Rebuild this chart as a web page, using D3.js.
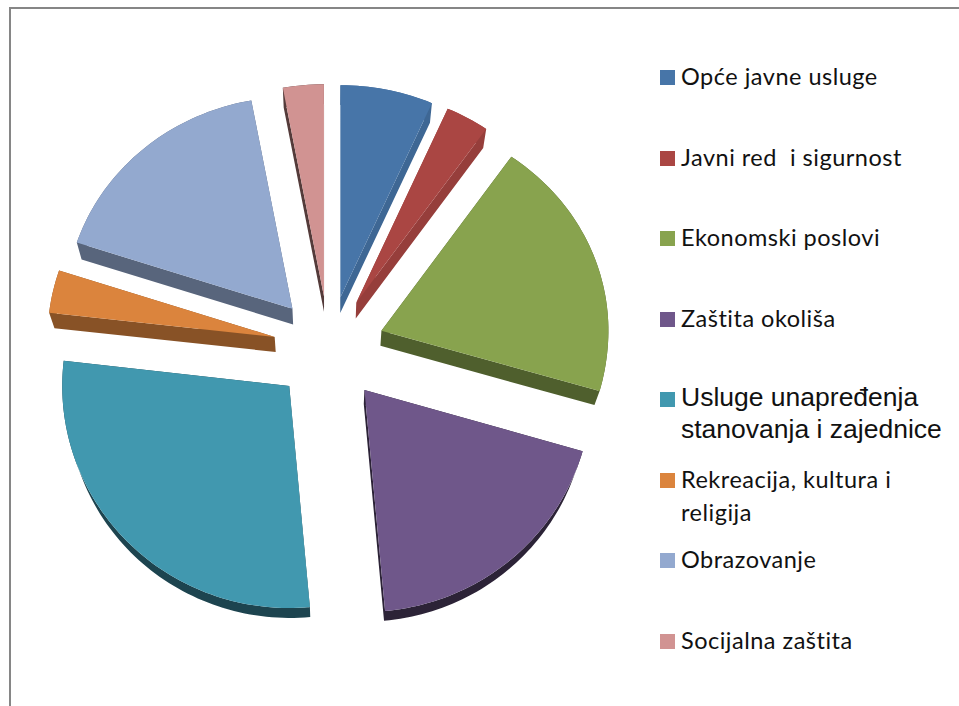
<!DOCTYPE html>
<html>
<head>
<meta charset="utf-8">
<script src="https://cdn.jsdelivr.net/npm/d3@7"></script>
<style>
  html, body { margin: 0; padding: 0; background: #fff; }
  svg { display: block; }
</style>
</head>
<body>
<div id="pie-chart"></div>
<script>
const categories = ["Opće javne usluge", "Javni red  i sigurnost", "Ekonomski poslovi", "Zaštita okoliša",
    "Usluge unapređenja stanovanja i zajednice", "Rekreacija, kultura i religija", "Obrazovanje", "Socijalna zaštita"];
const values = [6.6, 3.1, 19.75, 19.1, 28.26, 3.25, 17.04, 2.9];
const colors = ["#4775a8", "#aa4643", "#88a34e", "#6f578a", "#4198af", "#db843d", "#93a9cf", "#d19392"];
// how far each slice's side wall is darkened
const wallShade = [0.12, 0.12, 0.42, 0.6, 0.55, 0.38, 0.4, 0.6];

(function() {
    const width = 959;
    const height = 706;
    const explode = 0.245;
    const depth = 0.019;
    const vanish = [329, 1130];

    const svg = d3.select("#pie-chart")
        .append("svg")
        .attr("width", width)
        .attr("height", height);

    // frame, only the top and left sides are in the picture
    svg.append("path")
        .attr("d", "M10,706V8H959")
        .attr("fill", "none")
        .attr("stroke", "#868686")
        .attr("stroke-width", 2);

    // perspective: the far half of the pie is a little flatter
    const xScale = d3.scaleLinear().domain([-1, 1]).range([329 - 227, 329 + 227]);
    const yScale = d3.scaleLinear().domain([-1, 0, 1]).range([348 - 212, 348, 348 + 222]);

    const slices = d3.pie().sort(null)(values);
    const line = d3.line();

    function outline(s) {
        const mid = (s.startAngle + s.endAngle) / 2;
        const ox = explode * Math.sin(mid);
        const oy = -explode * Math.cos(mid);
        const steps = Math.max(4, Math.ceil((s.endAngle - s.startAngle) * 40));
        const pts = [[xScale(ox), yScale(oy)]];
        d3.range(steps + 1).forEach(i => {
            const a = s.startAngle + (s.endAngle - s.startAngle) * i / steps;
            pts.push([xScale(ox + Math.sin(a)), yScale(oy - Math.cos(a))]);
        });
        return pts;
    }

    const lower = p => [p[0] + depth * (vanish[0] - p[0]), p[1] + depth * (vanish[1] - p[1])];

    const groups = svg.selectAll("g.slice")
        .data(slices)
        .enter()
        .append("g")
        .attr("class", "slice");

    groups.append("path")
        .attr("fill", (d, i) => d3.interpolateRgb(colors[i], "#000")(wallShade[i]))
        .attr("d", d => {
            const top = outline(d);
            return top.map((p, i) => {
                const q = top[(i + 1) % top.length];
                const quad = [p, q, lower(q), lower(p)];
                // same winding for all, or overlapping quads punch holes
                if (d3.polygonArea(quad) < 0) quad.reverse();
                return line(quad) + "Z";
            }).join("");
        });

    groups.append("path")
        .attr("fill", (d, i) => colors[i])
        .attr("d", d => line(outline(d)) + "Z");

    // legend
    const legendLines = [
        ["Opće javne usluge"],
        ["Javni red  i sigurnost"],
        ["Ekonomski poslovi"],
        ["Zaštita okoliša"],
        ["Usluge unapređenja", "stanovanja i zajednice"],
        ["Rekreacija, kultura i", "religija"],
        ["Obrazovanje"],
        ["Socijalna zaštita"]
    ];
    const swatchY = [70, 151, 231, 312, 392, 473, 553, 634];
    const lineGap = [0, 0, 0, 0, 32, 33, 0, 0];

    const items = svg.selectAll("g.legend")
        .data(categories)
        .enter()
        .append("g")
        .attr("class", "legend")
        .attr("transform", (d, i) => `translate(660, ${swatchY[i]})`);

    items.append("rect")
        .attr("width", 15)
        .attr("height", 15)
        .attr("fill", (d, i) => colors[i]);

    items.each(function(d, i) {
        const arial = i === 4;
        d3.select(this).selectAll("text")
            .data(legendLines[i])
            .enter()
            .append("text")
            .attr("x", 21)
            .attr("y", (t, j) => (arial ? 14 : 15) + j * lineGap[i])
            .style("white-space", "pre")
            .attr("font-family", arial ? "'Liberation Sans'" : "Lato")
            .attr("font-size", arial ? 26.5 : 23.5)
            .attr("letter-spacing", arial ? 0 : 0.5)
            .attr("fill", "#111")
            .text(t => t);
    });
})();
</script>
</body>
</html>
